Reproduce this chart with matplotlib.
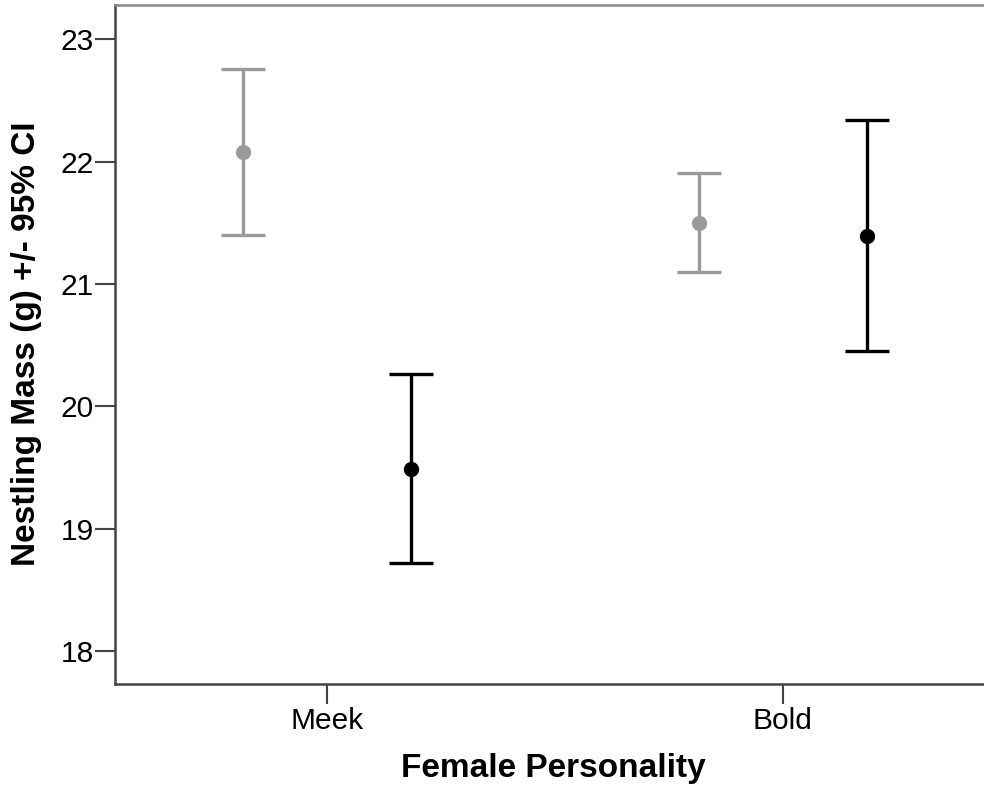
import matplotlib
matplotlib.use('Agg')
import matplotlib.pyplot as plt
import numpy as np

plt.rcParams['font.family'] = ['Liberation Sans', 'DejaVu Sans']

# data
personality = ['Meek', 'Bold']
gray_mean = [22.08, 21.50]
gray_low = [21.40, 21.10]
gray_high = [22.76, 21.91]
black_mean = [19.49, 21.39]
black_low = [18.72, 20.45]
black_high = [20.26, 22.34]

W, H, DPI = 984, 792, 100
fig = plt.figure(figsize=(W / DPI, H / DPI), dpi=DPI)
ax = fig.add_axes([115 / W, 1 - 684 / H, 1 - 115 / W, (684 - 5) / H])

xpos = np.arange(len(personality))
off = 0.184

def draw(xs, mean, low, high, col):
    mean = np.array(mean)
    yerr = [mean - np.array(low), np.array(high) - mean]
    ax.errorbar(xs, mean, yerr=yerr, fmt='o', color=col, ecolor=col,
                ms=10, elinewidth=2.4, capsize=16, capthick=2.4, zorder=3)

draw(xpos - off, gray_mean, gray_low, gray_high, '#9a9a9a')
draw(xpos + off, black_mean, black_low, black_high, '#000000')

ax.set_xlim(-0.465, 1.441)
ax.set_ylim(17.73, 23.28)
ax.set_yticks([18, 19, 20, 21, 22, 23])
ax.set_xticks(xpos)
ax.set_xticklabels(personality)

for s in ['left', 'bottom']:
    ax.spines[s].set_color('#444444')
    ax.spines[s].set_linewidth(1.8)
ax.spines['top'].set_color('#888888')
ax.spines['top'].set_linewidth(1.8)
ax.spines['right'].set_visible(False)

ax.tick_params(axis='both', colors='#444444', width=1.5, length=14.5,
               labelsize=21.5, labelcolor='black')
ax.tick_params(axis='y', pad=1)
ax.tick_params(axis='x', pad=2)

fig.text(553 / W, 1 - 768 / H, 'Female Personality', fontsize=24,
         fontweight='bold', ha='center', va='center')
fig.text(27 / W, 1 - 344 / H, 'Nestling Mass (g) +/- 95% CI', fontsize=24,
         fontweight='bold', ha='center', va='center', rotation=90)

fig.savefig('out.png', dpi=DPI, facecolor='white')
